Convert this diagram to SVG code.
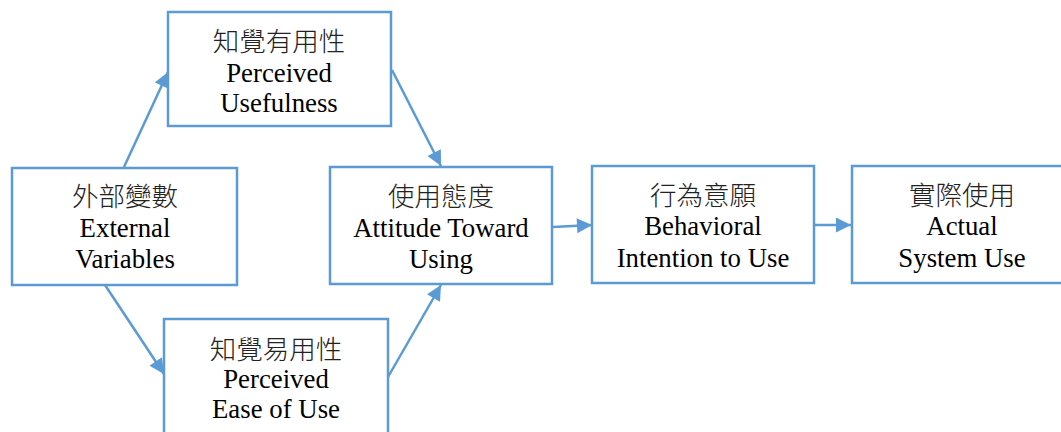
<svg xmlns="http://www.w3.org/2000/svg" width="1061" height="432" viewBox="0 0 1061 432">
<style>
.box{fill:#fff;stroke:#5B9BD5;stroke-width:2.5}
.t{font-family:"Liberation Serif","Noto Sans CJK TC",serif;font-size:26.8px;fill:#000;text-anchor:middle}
.c{font-family:"Noto Sans CJK TC","Liberation Serif",sans-serif;font-size:26.5px;font-weight:300;fill:#222;text-anchor:middle}
.ln{stroke:#5B9BD5;stroke-width:2.5;fill:none;marker-end:url(#ah)}
</style>
<defs>
<marker id="ah" viewBox="0 0 10 10" refX="10" refY="5" markerWidth="6.5" markerHeight="6" markerUnits="strokeWidth" orient="auto">
<path d="M0,0 L10,5 L0,10 z" fill="#5B9BD5"/>
</marker>
</defs>
<g id="connectors">
<line class="ln" x1="124" y1="167" x2="168" y2="72"/>
<line class="ln" x1="392" y1="70" x2="441" y2="166"/>
<line class="ln" x1="105" y1="285" x2="164" y2="374"/>
<line class="ln" x1="388" y1="377" x2="441" y2="285"/>
<line class="ln" x1="553" y1="227" x2="592" y2="225"/>
<line class="ln" x1="815" y1="225" x2="851" y2="225"/>
</g>
<g id="ext">
<rect class="box" x="12" y="168" width="225" height="117"/>
<text class="c" x="125" y="206">外部變數</text>
<text class="t" x="125" y="237">External</text>
<text class="t" x="125" y="268">Variables</text>
</g>
<g id="pu">
<rect class="box" x="168" y="12" width="223" height="114"/>
<text class="c" x="279" y="51">知覺有用性</text>
<text class="t" x="279" y="82">Perceived</text>
<text class="t" x="279" y="112">Usefulness</text>
</g>
<g id="peou">
<rect class="box" x="164" y="319" width="224" height="120"/>
<text class="c" x="276" y="359">知覺易用性</text>
<text class="t" x="276" y="388">Perceived</text>
<text class="t" x="276" y="418">Ease of Use</text>
</g>
<g id="att">
<rect class="box" x="330" y="167" width="222" height="117"/>
<text class="c" x="441" y="206">使用態度</text>
<text class="t" x="441" y="237">Attitude Toward</text>
<text class="t" x="441" y="268">Using</text>
</g>
<g id="bi">
<rect class="box" x="592" y="166" width="222" height="117"/>
<text class="c" x="703" y="205">行為意願</text>
<text class="t" x="703" y="235">Behavioral</text>
<text class="t" x="703" y="267">Intention to Use</text>
</g>
<g id="asu">
<rect class="box" x="852" y="166" width="220" height="117"/>
<text class="c" x="962" y="205">實際使用</text>
<text class="t" x="962" y="235">Actual</text>
<text class="t" x="962" y="267">System Use</text>
</g>
</svg>
